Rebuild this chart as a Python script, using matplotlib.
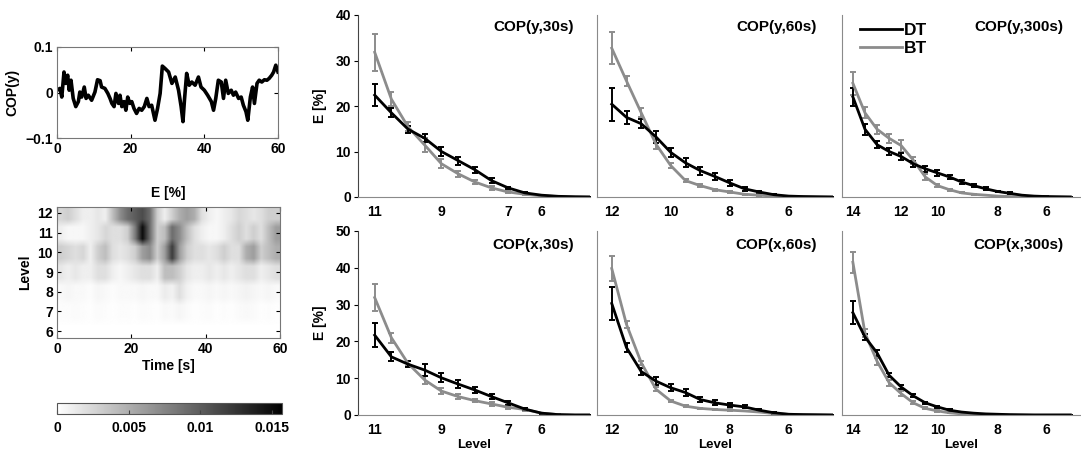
import numpy as np
import matplotlib
matplotlib.use('Agg')
import matplotlib.pyplot as plt
from matplotlib.lines import Line2D

plt.rcParams['font.family'] = ['Liberation Sans', 'DejaVu Sans']
plt.rcParams['font.weight'] = 'bold'
plt.rcParams['axes.labelweight'] = 'bold'

W, H = 1081, 455

# ---- COP(y) trace, 60 s ----
t_cop = [0, 0.8, 1.3, 1.9, 2.3, 2.9, 3.3, 3.8, 4.4, 5.1, 5.8, 6.2, 6.7, 7.4, 7.9, 8.5, 9.4,
         10.3, 11.0, 11.7, 12.1, 13.0, 13.8, 14.4, 14.9, 15.5, 16.0, 16.7, 17.1, 17.6, 18.2,
         18.7, 19.2, 19.8, 20.3, 20.9, 21.6, 22.3, 23.0, 23.7, 24.4, 25.0, 25.7, 26.6, 27.3,
         28.0, 28.6, 29.3, 30.3, 31.2, 32.1, 33.0, 33.7, 34.2, 34.6, 35.2, 35.9, 36.6, 37.5,
         38.4, 39.1, 40.0, 40.9, 41.9, 42.5, 43.1, 43.8, 44.6, 45.2, 45.8, 46.5, 47.3, 47.9,
         48.5, 49.3, 50.0, 50.6, 51.3, 51.8, 52.5, 53.1, 53.6, 54.3, 54.9, 55.6, 56.3, 57.0,
         57.6, 58.3, 58.8, 59.4, 60.0]
cop_y = [0.005, 0.009, -0.010, 0.045, 0.020, 0.038, 0.005, 0.027, -0.013, -0.031, -0.020,
         0.001, -0.010, 0.012, -0.013, -0.006, -0.017, 0.001, 0.028, 0.026, 0.012, 0.009,
         -0.002, -0.013, -0.024, -0.031, -0.002, -0.024, -0.006, -0.031, -0.020, -0.039,
         -0.010, -0.024, -0.020, -0.035, -0.046, -0.035, -0.039, -0.031, -0.013, -0.031,
         -0.028, -0.061, -0.035, -0.002, 0.058, 0.053, 0.045, 0.020, 0.034, 0.005, -0.031,
         -0.064, -0.017, 0.042, 0.016, 0.023, 0.016, 0.034, 0.012, 0.005, -0.006, -0.020,
         -0.039, -0.013, 0.027, 0.023, -0.013, 0.027, -0.002, 0.005, -0.006, 0.001, -0.013,
         -0.010, -0.028, -0.042, -0.061, -0.010, 0.012, -0.024, 0.020, 0.027, 0.023, 0.028,
         0.027, 0.031, 0.038, 0.045, 0.060, 0.045]

# ---- E [%] map, columns every 2 s (x1e-3) ----
hm_time = np.arange(1, 60, 2)
hm_levels = [6, 7, 8, 9, 10, 11, 12]
hm_l12 = [2.5, 3, 2, 1, 1, 1.5, 1, 4, 7, 9, 10, 11, 9, 3, 1, 3, 5, 6, 5, 2, 1, 0.5, 1, 1.5, 2.5, 2, 1.5, 2, 3, 3]
hm_l11 = [1, 0.5, 0.5, 0.5, 1, 1.5, 2.5, 2, 2, 3, 8, 15, 9, 3, 4, 9, 7, 4, 2, 1, 0.5, 0.5, 1, 2, 3, 2, 3, 2, 4, 6]
hm_l10 = [3, 2.5, 2, 2.5, 1, 3, 4, 2, 1.5, 2, 3, 6, 7, 3, 6, 12, 6, 3, 2, 2, 1.5, 2, 3, 2, 2, 5, 6, 3, 4, 5]
hm_l9 = [1.5, 1, 1.5, 1, 1, 2, 2, 1, 0.5, 1, 1.5, 2, 2, 1, 4, 4, 3, 1.5, 1, 1, 1.5, 1, 1.5, 1, 1.5, 2, 2, 1, 1.5, 2]
hm_l8 = [0.4, 0.6, 0.4, 0.4, 0.2, 0.6, 0.4, 0.2, 0.4, 0.4, 0.4, 0.6, 0.4, 0.4, 1.2, 0.8, 2.0, 0.8, 0.4, 0.4, 0.6, 0.4, 0.6, 0.4, 0.6, 0.8, 0.6, 0.4, 0.6, 0.4]
hm_l7 = [0.2, 0.2, 0.3, 0.2, 0.1, 0.3, 0.2, 0.1, 0.2, 0.2, 0.1, 0.3, 0.2, 0.1, 0.4, 0.3, 0.6, 0.3, 0.1, 0.2, 0.3, 0.1, 0.2, 0.1, 0.3, 0.4, 0.3, 0.1, 0.2, 0.1]
hm_l6 = [0.05] * 30

# ---- level panels: x = point index (half-level steps) ----
tick_pos_30 = [0, 4, 8, 10]
tick_lab_30 = ['11', '9', '7', '6']
tick_pos_60 = [0, 4, 8, 12]
tick_lab_60 = ['12', '10', '8', '6']
tick_pos_300 = [0, 4, 7, 12, 16]
tick_lab_300 = ['14', '12', '10', '8', '6']

y30_dt = [22.4, 18.5, 14.9, 12.9, 10.0, 8.0, 6.0, 3.6, 2.0, 0.9, 0.4, 0.15, 0.05, 0.0]
y30_dt_err = [2.4, 1.0, 0.8, 0.9, 0.9, 0.9, 0.7, 0.5, 0.3, 0.2, 0.1, 0.05, 0, 0]
y30_bt = [31.8, 21.5, 15.4, 11.4, 7.3, 5.1, 3.3, 2.0, 1.1, 0.6, 0.25, 0.1, 0.03, 0.0]
y30_bt_err = [4.0, 1.6, 1.0, 1.6, 1.0, 0.7, 0.5, 0.4, 0.3, 0.2, 0.1, 0.05, 0, 0]

y60_dt = [20.4, 17.5, 16.1, 13.2, 9.8, 7.5, 5.8, 4.5, 3.1, 1.8, 1.1, 0.5, 0.2, 0.1, 0.05, 0.0]
y60_dt_err = [3.6, 1.5, 1.0, 1.3, 1.0, 1.0, 0.9, 0.8, 0.6, 0.4, 0.2, 0.1, 0.05, 0, 0, 0]
y60_bt = [32.7, 25.5, 18.5, 11.6, 6.9, 3.6, 2.5, 1.6, 1.1, 0.6, 0.4, 0.2, 0.1, 0.05, 0.0, 0.0]
y60_bt_err = [3.5, 1.0, 1.0, 1.0, 0.6, 0.4, 0.3, 0.2, 0.2, 0.1, 0.1, 0.05, 0, 0, 0, 0]

y300_dt = [22.0, 14.9, 11.5, 10.0, 8.9, 7.3, 6.2, 5.3, 4.4, 3.3, 2.5, 1.8, 1.2, 0.8, 0.4, 0.2, 0.1, 0.05, 0.0]
y300_dt_err = [2.0, 1.2, 0.8, 0.7, 0.7, 0.6, 0.7, 0.6, 0.5, 0.4, 0.3, 0.3, 0.2, 0.2, 0.1, 0.1, 0.05, 0, 0]
y300_bt = [25.0, 18.5, 14.9, 12.9, 11.3, 8.1, 4.4, 2.5, 1.6, 0.9, 0.6, 0.4, 0.2, 0.1, 0.05, 0.0, 0.0, 0.0, 0.0]
y300_bt_err = [2.5, 1.2, 1.0, 1.0, 1.3, 0.8, 0.6, 0.3, 0.2, 0.1, 0.1, 0.05, 0, 0, 0, 0, 0, 0, 0]

x30_dt = [21.7, 15.8, 13.8, 12.2, 10.1, 8.4, 6.8, 5.0, 3.3, 1.6, 0.5, 0.1, 0.0, 0.0]
x30_dt_err = [3.2, 1.2, 0.8, 1.6, 1.2, 1.0, 0.8, 0.7, 0.5, 0.3, 0.1, 0.05, 0, 0]
x30_bt = [31.9, 21.0, 14.0, 9.5, 6.5, 5.0, 3.9, 3.0, 2.1, 1.5, 0.5, 0.1, 0.0, 0.0]
x30_bt_err = [3.7, 1.4, 0.8, 1.2, 0.8, 0.6, 0.5, 0.5, 0.4, 0.3, 0.1, 0.05, 0, 0]

x60_dt = [30.3, 18.3, 11.8, 9.2, 7.4, 6.1, 4.2, 3.3, 2.7, 2.2, 1.3, 0.6, 0.2, 0.1, 0.05, 0.0]
x60_dt_err = [4.5, 1.2, 1.0, 1.1, 1.0, 0.9, 0.8, 0.7, 0.5, 0.4, 0.3, 0.2, 0.1, 0, 0, 0]
x60_bt = [39.8, 24.6, 14.2, 7.0, 3.8, 2.4, 1.8, 1.5, 1.3, 1.1, 0.8, 0.4, 0.15, 0.1, 0.05, 0.0]
x60_bt_err = [3.3, 1.0, 0.6, 0.5, 0.3, 0.2, 0.2, 0.2, 0.2, 0.1, 0.1, 0.1, 0.05, 0, 0, 0]

x300_dt = [27.8, 21.2, 16.9, 10.8, 7.6, 5.2, 3.3, 2.2, 1.3, 0.8, 0.5, 0.3, 0.2, 0.1, 0.05, 0.0, 0.0, 0.0, 0.0]
x300_dt_err = [3.2, 0.8, 0.8, 0.6, 0.5, 0.4, 0.3, 0.3, 0.2, 0.1, 0.1, 0.05, 0.05, 0, 0, 0, 0, 0, 0]
x300_bt = [41.5, 22.3, 14.6, 8.8, 5.8, 3.3, 1.8, 1.1, 0.6, 0.3, 0.2, 0.1, 0.05, 0.0, 0.0, 0.0, 0.0, 0.0, 0.0]
x300_bt_err = [2.8, 1.0, 1.0, 0.8, 0.6, 0.4, 0.3, 0.2, 0.1, 0.1, 0.05, 0, 0, 0, 0, 0, 0, 0, 0]

DT_COL = 'black'
BT_COL = '#8c8c8c'
FS = 10


def px(x0, y0, x1, y1):
    return [x0 / W, 1 - y1 / H, (x1 - x0) / W, (y1 - y0) / H]


fig = plt.figure(figsize=(W / 100, H / 100), dpi=100)

# time series
ax_ts = fig.add_axes(px(57, 47, 278, 138))
ax_ts.plot(t_cop, cop_y, color='black', lw=2.6)
ax_ts.set_xlim(0, 60)
ax_ts.set_ylim(-0.1, 0.1)
ax_ts.set_xticks([0, 20, 40, 60])
ax_ts.set_yticks([-0.1, 0, 0.1])
ax_ts.set_yticklabels(['\u22120.1', '0', '0.1'])
ax_ts.set_ylabel('COP(y)', fontsize=FS, labelpad=4)
ax_ts.tick_params(direction='in', length=3, labelsize=FS, top=True, right=True, pad=3)
for s in ax_ts.spines.values():
    s.set_color('#777777')

# E map: linear along time, soft steps between level bands
ax_hm = fig.add_axes(px(57, 207, 280, 338))
hm = np.array([hm_l6, hm_l7, hm_l8, hm_l9, hm_l10, hm_l11, hm_l12]) * 1e-3
t_fine = np.linspace(0, 60, 481)
hm_t = np.array([np.interp(t_fine, hm_time, row) for row in hm])
y_fine = np.linspace(hm_levels[0] - 0.5, hm_levels[-1] + 0.5, 141)
u = np.clip(y_fine - hm_levels[0], 0, len(hm_levels) - 1)
base = np.minimum(np.floor(u).astype(int), len(hm_levels) - 2)
w = np.clip((u - base - 0.3) / 0.4, 0, 1)[:, None]
hm_fine = hm_t[base] * (1 - w) + hm_t[base + 1] * w
im = ax_hm.imshow(hm_fine, cmap='gray_r', vmin=0, vmax=0.0157, aspect='auto', origin='lower',
                  extent=[0, 60, y_fine[0], y_fine[-1]], interpolation='bilinear')
ax_hm.set_xlim(0, 60)
ax_hm.set_ylim(5.65, 12.3)
ax_hm.set_xticks([0, 20, 40, 60])
ax_hm.set_yticks(hm_levels)
ax_hm.set_title('E [%]', fontsize=FS, fontweight='bold', pad=7)
ax_hm.set_ylabel('Level', fontsize=FS, labelpad=4)
ax_hm.set_xlabel('Time [s]', fontsize=FS, labelpad=2)
ax_hm.tick_params(direction='in', length=3, labelsize=FS, top=True, right=True, pad=3)
for s in ax_hm.spines.values():
    s.set_color('#777777')

cax = fig.add_axes(px(57, 403, 282, 414))
cb = fig.colorbar(im, cax=cax, orientation='horizontal')
cb.set_ticks([0, 0.005, 0.01, 0.015])
cb.set_ticklabels(['0', '0.005', '0.01', '0.015'])
cax.tick_params(direction='in', length=3, labelsize=FS, pad=5, color='#444444')
cb.outline.set_edgecolor('#555555')

# level panels
cols = [(358, 590), (597, 833), (842, 1080)]
rows = [(15, 197, 40), (231, 415, 50)]
panels = [
    [(y30_dt, y30_dt_err, y30_bt, y30_bt_err, tick_pos_30, tick_lab_30, 'COP(y,30s)'),
     (y60_dt, y60_dt_err, y60_bt, y60_bt_err, tick_pos_60, tick_lab_60, 'COP(y,60s)'),
     (y300_dt, y300_dt_err, y300_bt, y300_bt_err, tick_pos_300, tick_lab_300, 'COP(y,300s)')],
    [(x30_dt, x30_dt_err, x30_bt, x30_bt_err, tick_pos_30, tick_lab_30, 'COP(x,30s)'),
     (x60_dt, x60_dt_err, x60_bt, x60_bt_err, tick_pos_60, tick_lab_60, 'COP(x,60s)'),
     (x300_dt, x300_dt_err, x300_bt, x300_bt_err, tick_pos_300, tick_lab_300, 'COP(x,300s)')],
]
xlims = [(-1, 12.9), (-1, 15), (-0.9, 18.8)]

for r, (y0, y1, ymax) in enumerate(rows):
    for c, (x0, x1) in enumerate(cols):
        dt, dte, bt, bte, tpos, tlab, title = panels[r][c]
        ax = fig.add_axes(px(x0, y0, x1, y1))
        ax.errorbar(np.arange(len(bt)), bt, yerr=bte, color=BT_COL, lw=2, elinewidth=1.4,
                    capsize=2.5, capthick=1.4)
        ax.errorbar(np.arange(len(dt)), dt, yerr=dte, color=DT_COL, lw=2, elinewidth=1.4,
                    capsize=2.5, capthick=1.4)
        ax.set_xlim(*xlims[c])
        ax.set_ylim(0, ymax)
        ax.set_xticks(tpos)
        ax.set_xticklabels(tlab)
        ax.spines['top'].set_visible(False)
        ax.spines['right'].set_visible(False)
        ax.spines['bottom'].set_color('#8a8a8a')
        ax.spines['left'].set_color('#444444' if c == 0 else '#8a8a8a')
        ax.tick_params(axis='x', length=0, labelsize=FS, pad=6)
        if c == 0:
            ax.set_yticks(np.arange(0, ymax + 1, 10))
            ax.tick_params(axis='y', direction='out', length=3, labelsize=FS, pad=2)
            ax.set_ylabel('E [%]', fontsize=FS, labelpad=6)
        else:
            ax.tick_params(axis='y', left=False, labelleft=False)
        ax.text(0.93, 0.935 if r == 0 else 0.925, title, transform=ax.transAxes,
                ha='right', va='center', fontsize=11, fontweight='bold')
        if r == 1:
            ax.set_xlabel('Level', fontsize=9.5, labelpad=1)
        if r == 0 and c == 2:
            handles = [Line2D([], [], color=DT_COL, lw=2), Line2D([], [], color=BT_COL, lw=2)]
            ax.legend(handles, ['DT', 'BT'], loc='upper left', bbox_to_anchor=(0.075, 0.955),
                      frameon=False, fontsize=12.5, handlelength=2.4, handletextpad=0.15,
                      labelspacing=0.15, borderpad=0, borderaxespad=0)

fig.savefig('out.png', dpi=100)
